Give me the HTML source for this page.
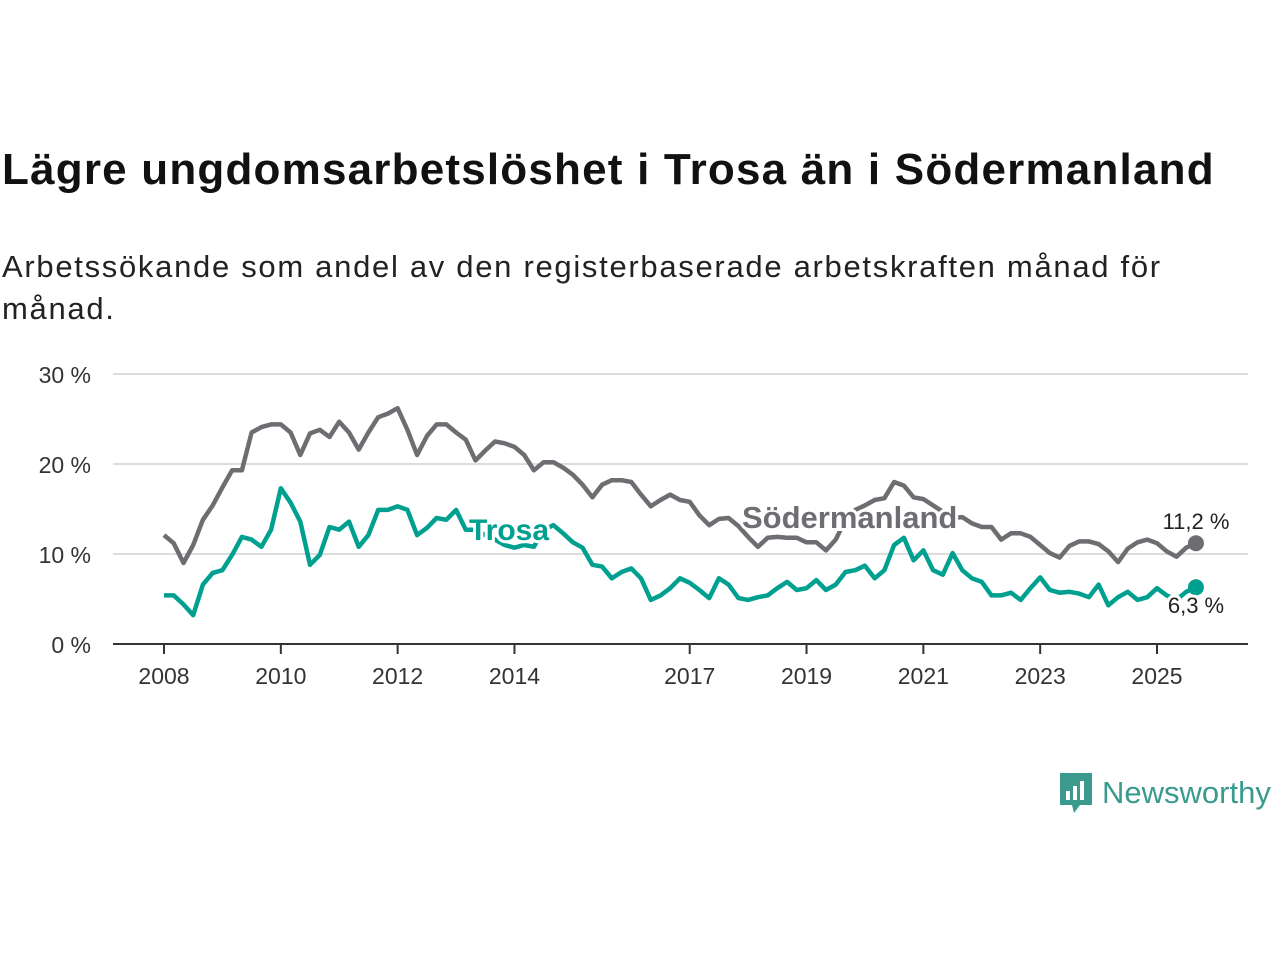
<!DOCTYPE html>
<html><head><meta charset="utf-8"><style>
body{margin:0;width:1280px;height:960px;background:#fff;font-family:"Liberation Sans",sans-serif;overflow:hidden;position:relative}
#title{position:absolute;left:2px;top:145px;font-size:44px;font-weight:bold;color:#111;letter-spacing:1.2px;white-space:nowrap}
#sub{position:absolute;left:2px;top:246px;font-size:31px;line-height:42px;color:#222;width:1250px;letter-spacing:1.7px;white-space:nowrap}
#logo{position:absolute;left:1058px;top:771px;font-size:31px;color:#3a9a8e;display:flex;align-items:center;gap:8px}
</style></head><body>
<div id="title">Lägre ungdomsarbetslöshet i Trosa än i Södermanland</div>
<div id="sub">Arbetssökande som andel av den registerbaserade arbetskraften månad för<br>månad.</div>
<svg id="chart" width="1280" height="960" style="position:absolute;left:0;top:0"></svg>
<div id="logo"><svg width="36" height="44" viewBox="0 0 36 44"><path d="M2 2h32v32H22l-6 8-2-8H2z" fill="#3a9a8e"/><rect x="8" y="20" width="4" height="9" fill="#fff"/><rect x="15" y="15" width="4" height="14" fill="#fff"/><rect x="22" y="10" width="4" height="19" fill="#fff"/></svg><span>Newsworthy</span></div>
<script>
const startYear = 2008, stepYears = 1/6;
const sodermanland = [12.1,11.2,9.0,11,13.8,15.4,17.4,19.3,19.3,23.5,24.1,24.4,24.4,23.5,21,23.4,23.8,23,24.7,23.5,21.6,23.5,25.2,25.6,26.2,23.8,21,23.1,24.4,24.4,23.5,22.7,20.4,21.5,22.5,22.3,21.9,21,19.3,20.2,20.2,19.6,18.8,17.7,16.3,17.7,18.2,18.2,18,16.6,15.3,16,16.6,16,15.8,14.3,13.2,13.9,14,13.1,11.9,10.8,11.8,11.9,11.8,11.8,11.3,11.3,10.4,11.6,13.8,14.9,15.4,16,16.2,18,17.6,16.3,16.1,15.4,14.7,14,14.1,13.4,13,13,11.6,12.3,12.3,11.9,11,10.1,9.6,10.9,11.4,11.4,11.1,10.3,9.1,10.6,11.3,11.6,11.2,10.3,9.7,10.7,11.2];
const trosa = [5.4,5.4,4.4,3.2,6.6,7.9,8.2,9.9,11.9,11.6,10.8,12.7,17.3,15.7,13.6,8.8,9.9,13,12.7,13.6,10.8,12.1,14.9,14.9,15.3,14.9,12.1,12.9,14,13.8,14.9,12.7,12.7,12.1,11.6,11,10.7,11,10.8,12.7,13.2,12.3,11.3,10.7,8.8,8.6,7.3,8,8.4,7.3,4.9,5.4,6.2,7.3,6.8,6,5.1,7.3,6.6,5.1,4.9,5.2,5.4,6.2,6.9,6,6.2,7.1,6,6.6,8,8.2,8.7,7.3,8.2,11,11.8,9.3,10.4,8.2,7.7,10.1,8.2,7.3,6.9,5.4,5.4,5.7,4.9,6.2,7.4,6,5.7,5.8,5.6,5.2,6.6,4.3,5.2,5.8,4.9,5.2,6.2,5.4,4.9,5.8,6.3];
const yTicks = [0,10,20,30];
const yTickLabels = ["0 %","10 %","20 %","30 %"];
const xTicks = [2008,2010,2012,2014,2017,2019,2021,2023,2025];
const NS="http://www.w3.org/2000/svg";
const svg=document.getElementById('chart');
const X=y=>164+(y-2008)*(1157-164)/17;
const Y=v=>644-v*9;
function mk(t,a){const e=document.createElementNS(NS,t);for(const k in a)e.setAttribute(k,a[k]);svg.appendChild(e);return e;}
yTicks.forEach((t,i)=>{
  const g=mk('line',{x1:113,x2:1248,y1:Y(t),y2:Y(t),stroke:t===0?'#333':'#ddd','stroke-width':2});
  
  
  const l=mk('text',{x:91,y:Y(t)+9,'text-anchor':'end','font-size':23,fill:'#333'});l.textContent=yTickLabels[i];
  
  
});
xTicks.forEach(t=>{
  const tk=mk('line',{x1:X(t),x2:X(t),y1:644,y2:654,stroke:'#333','stroke-width':2});
  
  
  const l=mk('text',{x:X(t),y:684,'text-anchor':'middle','font-size':23,fill:'#333'});l.textContent=t;
  
  
});
function series(data,color,name){
  const d=data.map((v,i)=>(i?'L':'M')+X(startYear+i*stepYears).toFixed(1)+' '+Y(v).toFixed(1)).join(' ');
  const p=mk('path',{d:d,fill:'none',stroke:color,'stroke-width':4.5,'stroke-linejoin':'round'});
  
  
  const n=data.length-1;
  const c=mk('circle',{cx:X(startYear+n*stepYears),cy:Y(data[n]),r:8,fill:color});
  
  
}
series(sodermanland,'#6e6d72','sodermanland');
series(trosa,'#00a090','trosa');
function label(txt,x,y,color,size,bold,name,anchor){
  const t=mk('text',{x:x,y:y,'font-size':size,'font-weight':bold?'bold':'normal',fill:color,stroke:'#fff','stroke-width':6,'paint-order':'stroke','text-anchor':anchor||'start'});
  t.textContent=txt;
  
  
}
label('Södermanland',742,528,'#6e6d72',31,true,'sodermanland-label');
label('Trosa',469,540,'#00a090',30,true,'trosa-label');
label('11,2 %',1196,529,'#222',22,false,'sodermanland-value-label','middle');
label('6,3 %',1196,613,'#222',22,false,'trosa-value-label','middle');
</script>
</body></html>
